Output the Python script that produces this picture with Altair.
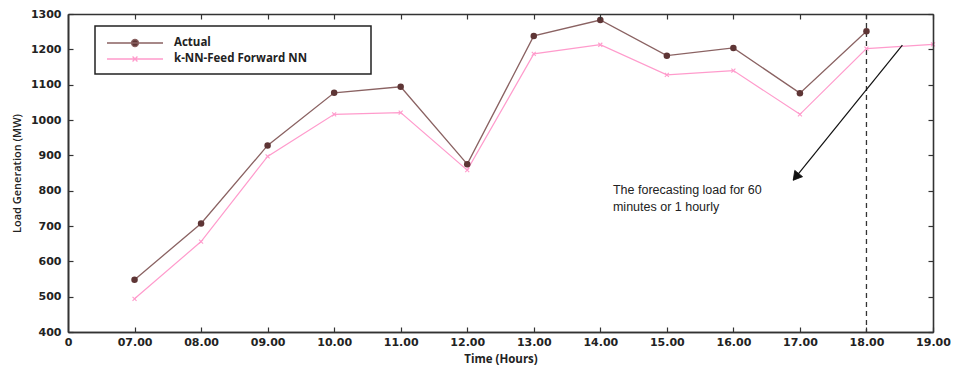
import altair as alt
import pandas as pd

# ---- data ----
x_labels = ["0", "07.00", "08.00", "09.00", "10.00", "11.00", "12.00",
            "13.00", "14.00", "15.00", "16.00", "17.00", "18.00", "19.00"]
actual_idx = [1, 2, 3, 4, 5, 6, 7, 8, 9, 10, 11, 12]
actual_vals = [548, 707, 928, 1077, 1094, 875, 1238, 1283, 1182, 1204, 1076, 1251]
knn_idx = [1, 2, 3, 4, 5, 6, 7, 8, 9, 10, 11, 12, 13]
knn_vals = [494, 656, 897, 1016, 1021, 858, 1187, 1213, 1128, 1140, 1016, 1202, 1214]
y_ticks = [400, 500, 600, 700, 800, 900, 1000, 1100, 1200, 1300]
series_names = ["Actual", "k-NN-Feed Forward NN"]
forecast_idx = [12]
note_lines = ["The forecasting load for 60", "minutes or 1 hourly"]
note_pos = [8.19, 818]
arrow_from = [12.54, 1212]
arrow_to = [10.90, 830]
head_at = [10.94, 839]

# ---- styles ----
W, H = 865, 318
C_ACT_LINE = "#8a6262"
C_ACT_PT = "#5e3535"
C_KNN = "#ff9bcc"
AX = "#333333"
TICK_FONT = "DejaVu Sans"

df_act = pd.DataFrame({"idx": actual_idx, "value": actual_vals, "series": series_names[0]})
df_knn = pd.DataFrame({"idx": knn_idx, "value": knn_vals, "series": series_names[1]})
df_all = pd.concat([df_act, df_knn], ignore_index=True)
df_rule = pd.DataFrame({"idx": forecast_idx})
df_note = pd.DataFrame({"idx": [note_pos[0]], "value": [note_pos[1]], "txt": [note_lines]})
df_arrow = pd.DataFrame({"idx": [arrow_from[0]], "value": [arrow_from[1]],
                         "idx2": [arrow_to[0]], "value2": [arrow_to[1]]})
df_head = pd.DataFrame({"idx": [head_at[0]], "value": [head_at[1]]})

xscale = alt.Scale(domain=[0, 13], nice=False, zero=False)
yscale = alt.Scale(domain=[400, 1300], nice=False, zero=False)
label_expr = str(x_labels) + "[datum.value]"

common_axis = dict(grid=False, domainColor=AX, domainWidth=1.6, tickColor=AX,
                   tickWidth=1.2)

x_main = alt.Axis(orient="bottom", values=list(range(14)), labelExpr=label_expr,
                  ticks=False, title="Time (Hours)", titleFont="Open Sans",
                  titleFontWeight="bold", titleFontSize=11.5, titleColor="#222",
                  titlePadding=6, labelFont=TICK_FONT, labelFontWeight="bold",
                  labelFontSize=11, labelColor="#222", labelPadding=4,
                  labelFlush=False, **common_axis)
y_main = alt.Axis(orient="left", values=y_ticks, ticks=False, format="d",
                  title="Load Generation (MW)", titleFont="Open Sans",
                  titleFontWeight=600, titleFontSize=11, titleColor="#222",
                  titlePadding=8, labelFont=TICK_FONT, labelFontWeight="bold",
                  labelFontSize=11, labelColor="#222", labelPadding=7,
                  labelFlush=False, **common_axis)
# inward tick axes (placed on the opposite edge with negative offset)
tick_axis = dict(labels=False, title=None, ticks=True, tickSize=5, tickOpacity=1,
                 zindex=1, **common_axis)
x_in_bottom = alt.Axis(orient="top", offset=-H, values=list(range(1, 14)), **tick_axis)
x_in_top = alt.Axis(orient="bottom", offset=-H, values=list(range(1, 14)), **tick_axis)
y_in_left = alt.Axis(orient="right", offset=-W, values=y_ticks, **tick_axis)
y_in_right = alt.Axis(orient="left", offset=-W, values=y_ticks, **tick_axis)


def X(axis=None, field="idx"):
    return alt.X(field + ":Q", scale=xscale, axis=axis)


def Y(axis=None, field="value"):
    return alt.Y(field + ":Q", scale=yscale, axis=axis)


act = alt.Chart(df_act)
knn = alt.Chart(df_knn)

act_line = act.mark_line(color=C_ACT_LINE, strokeWidth=1.3).encode(x=X(x_main), y=Y(y_main))
act_pts = act.mark_point(filled=True, color=C_ACT_PT, size=42, opacity=1).encode(x=X(), y=Y())
knn_line = knn.mark_line(color=C_KNN, strokeWidth=1.2).encode(x=X(x_in_bottom), y=Y(y_in_left))
knn_pts = knn.mark_point(shape="M-1,-1L1,1M-1,1L1,-1", filled=False, color=C_KNN,
                         size=16, strokeWidth=1.1, opacity=1).encode(x=X(x_in_top), y=Y(y_in_right))

rule = alt.Chart(df_rule).mark_rule(color="#333", strokeDash=[5, 4], strokeWidth=1.3).encode(x=X())

note = alt.Chart(df_note).mark_text(align="left", baseline="top", font="Liberation Sans",
                                    fontSize=12.5, lineHeight=17, color="#222").encode(
    x=X(), y=Y(), text="txt")

arrow = alt.Chart(df_arrow).mark_rule(color="#111", strokeWidth=1.2).encode(
    x=X(), y=Y(), x2="idx2:Q", y2="value2:Q")
head = alt.Chart(df_head).mark_point(shape="triangle-up", filled=True, fill="#111",
                                     stroke="#111", strokeWidth=0.8, fillOpacity=1,
                                     size=100, angle=219, opacity=1).encode(x=X(), y=Y())

legend_paths = [
    "M-4,0H4M-0.5,0a0.5,0.5 0 1,0 1,0a0.5,0.5 0 1,0 -1,0Z",
    "M-4,0H4M-0.35,-0.35L0.35,0.35M-0.35,0.35L0.35,-0.35",
]
pad_tail = "\u2800" * 6
leg = alt.Legend(title=None, orient="none", legendX=27, legendY=12, padding=9,
                 strokeColor="#222", fillColor="white", symbolSize=196,
                 symbolOffset=23, labelOffset=31, rowPadding=1, labelLimit=600,
                 labelFont="Open Sans", labelFontSize=11.5, labelFontWeight="bold",
                 labelColor="#222", symbolStrokeWidth=1.3,
                 labelExpr="datum.label + '" + pad_tail + "'")
legend_layer = alt.Chart(df_all).transform_filter("false").mark_point(
    filled=True, strokeWidth=1.3, opacity=1).encode(
    x=X(), y=Y(),
    shape=alt.Shape("series:N", scale=alt.Scale(domain=series_names, range=legend_paths), legend=leg),
    stroke=alt.Stroke("series:N", scale=alt.Scale(domain=series_names, range=[C_ACT_LINE, C_KNN]), legend=leg),
    fill=alt.Fill("series:N", scale=alt.Scale(domain=series_names, range=[C_ACT_PT, "rgba(0,0,0,0)"]), legend=leg),
)

chart = alt.layer(
    rule, act_line, knn_line, act_pts, knn_pts, arrow, head, note, legend_layer
).resolve_axis(x="independent", y="independent").properties(
    width=W, height=H,
    autosize=alt.AutoSizeParams(type="none"),
    padding={"left": 60, "top": 6, "right": 20, "bottom": 39},
).configure_view(stroke=None).configure_legend(strokeWidth=1.5)

chart.save("out.html", embed_options={"renderer": "svg", "actions": False})
